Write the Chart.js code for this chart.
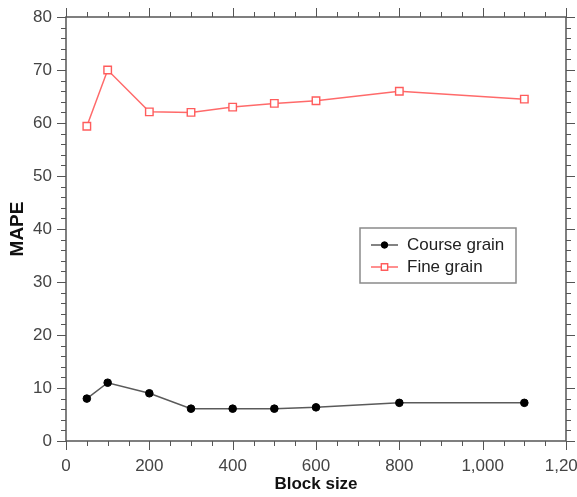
<!DOCTYPE html>
<html>
<head>
<meta charset="utf-8">
<script src="https://cdn.jsdelivr.net/npm/chart.js@4/dist/chart.umd.min.js"></script>
<style>
html,body{margin:0;padding:0;background:#fff;}
#wrap{width:577px;height:497px;}
</style>
</head>
<body>
<div id="wrap"><canvas id="c" width="577" height="497"></canvas></div>
<script>
const blockSizes = [50, 100, 200, 300, 400, 500, 600, 800, 1100];
const courseGrain = [8.0, 11.0, 9.0, 6.1, 6.1, 6.1, 6.35, 7.2, 7.2];
const fineGrain = [59.4, 70.0, 62.1, 62.0, 63.0, 63.7, 64.2, 66.0, 64.5];
const seriesNames = ['Course grain', 'Fine grain'];
const xTickValues = [0, 200, 400, 600, 800, 1000, 1200];
const yTickValues = [0, 10, 20, 30, 40, 50, 60, 70, 80];
const xMinorStep = 50;
const yMinorStep = 2;

const FONT = '"Liberation Sans", Arial, Helvetica, sans-serif';
const AXIS = '#555';

const framePlugin = {
  id: 'frame',
  afterDraw(chart) {
    const ctx = chart.ctx;
    const a = chart.chartArea;
    const xs = chart.scales.x, ys = chart.scales.y;
    ctx.save();
    ctx.strokeStyle = AXIS;
    ctx.lineWidth = 1;
    const majL = 9, minL = 5;
    ctx.beginPath();
    for (let v = xs.min; v <= xs.max + 1e-9; v += xMinorStep) {
      const px = Math.round(xs.getPixelForValue(v)) + 0.5;
      const L = xTickValues.includes(v) ? majL : minL;
      ctx.moveTo(px, a.bottom); ctx.lineTo(px, a.bottom + L);
      ctx.moveTo(px, a.top); ctx.lineTo(px, a.top - L);
    }
    for (let v = ys.min; v <= ys.max + 1e-9; v += yMinorStep) {
      const py = Math.round(ys.getPixelForValue(v)) + 0.5;
      const L = yTickValues.includes(Math.round(v)) ? majL : minL;
      ctx.moveTo(a.left, py); ctx.lineTo(a.left - L, py);
      ctx.moveTo(a.right, py); ctx.lineTo(a.right + L, py);
    }
    ctx.stroke();
    ctx.lineWidth = 1.5;
    ctx.strokeRect(a.left, a.top, a.right - a.left, a.bottom - a.top);
    // legend
    const lx = a.left + 294, ly = a.top + 211, lw = 156, lh = 55;
    ctx.fillStyle = '#fff';
    ctx.fillRect(lx, ly, lw, lh);
    ctx.strokeStyle = '#8a8a8a';
    ctx.lineWidth = 1.5;
    ctx.strokeRect(lx, ly, lw, lh);
    chart.data.datasets.forEach((ds, i) => {
      const cy = ly + 17 + i * 22;
      ctx.strokeStyle = ds.borderColor;
      ctx.lineWidth = ds.borderWidth;
      ctx.beginPath();
      ctx.moveTo(lx + 11, cy); ctx.lineTo(lx + 38, cy);
      ctx.stroke();
      ctx.save();
      ctx.fillStyle = ds.pointBackgroundColor;
      ctx.strokeStyle = ds.pointBorderColor;
      ctx.lineWidth = ds.pointBorderWidth;
      Chart.helpers.drawPoint(ctx, {
        pointStyle: ds.pointStyle, radius: ds.pointRadius * 0.85, rotation: 0,
        borderWidth: ds.pointBorderWidth
      }, lx + 24.5, cy);
      ctx.restore();
      ctx.fillStyle = '#222';
      ctx.font = '17px ' + FONT;
      ctx.textBaseline = 'middle';
      ctx.textAlign = 'left';
      ctx.fillText(ds.label, lx + 47, cy + 0.5);
    });
    ctx.restore();
  }
};

new Chart(document.getElementById('c'), {
  type: 'line',
  data: {
    datasets: [
      {
        label: seriesNames[0],
        data: blockSizes.map((x, i) => ({x, y: courseGrain[i]})),
        borderColor: '#5a5a5a',
        borderWidth: 1.5,
        pointStyle: 'circle',
        pointRadius: 3.8,
        pointBackgroundColor: '#000',
        pointBorderColor: '#000',
        pointBorderWidth: 1,
        tension: 0
      },
      {
        label: seriesNames[1],
        data: blockSizes.map((x, i) => ({x, y: fineGrain[i]})),
        borderColor: '#ff6a6a',
        borderWidth: 1.5,
        pointStyle: 'rect',
        pointRadius: 5.3,
        pointBackgroundColor: '#ffffff',
        pointBorderColor: '#ff5c5c',
        pointBorderWidth: 1.4,
        tension: 0
      }
    ]
  },
  options: {
    responsive: false,
    animation: false,
    devicePixelRatio: 1,
    layout: { padding: { left: 2, top: 17, right: 11, bottom: 2 } },
    plugins: { legend: { display: false }, tooltip: { enabled: false } },
    scales: {
      x: {
        type: 'linear',
        min: 0, max: 1200,
        afterBuildTicks(s) { s.ticks = xTickValues.map(v => ({value: v})); },
        afterFit(s) { s.height = 54; s.paddingLeft = 0; s.paddingRight = 0; },
        grid: { display: true, drawOnChartArea: false, drawTicks: true, tickLength: 9, color: 'rgba(0,0,0,0)' },
        border: { display: false },
        ticks: {
          padding: 6, maxRotation: 0, autoSkip: false,
          color: '#444', font: { family: FONT, size: 17 },
          callback: v => v.toLocaleString('en-US')
        },
        title: {
          display: true, text: 'Block size', color: '#111',
          font: { family: FONT, size: 17, weight: 'bold' },
          padding: { top: 0, bottom: 0 }
        }
      },
      y: {
        type: 'linear',
        min: 0, max: 80,
        afterBuildTicks(s) { s.ticks = yTickValues.map(v => ({value: v})); },
        afterFit(s) { s.width = 64; s.paddingTop = 0; s.paddingBottom = 0; },
        grid: { display: true, drawOnChartArea: false, drawTicks: true, tickLength: 9, color: 'rgba(0,0,0,0)' },
        border: { display: false },
        ticks: {
          padding: 5, autoSkip: false,
          color: '#444', font: { family: FONT, size: 17 }
        },
        title: {
          display: true, text: 'MAPE', color: '#111',
          font: { family: FONT, size: 19, weight: 'bold' },
          padding: { top: 4, bottom: 0 }
        }
      }
    }
  },
  plugins: [framePlugin]
});
</script>
</body>
</html>
